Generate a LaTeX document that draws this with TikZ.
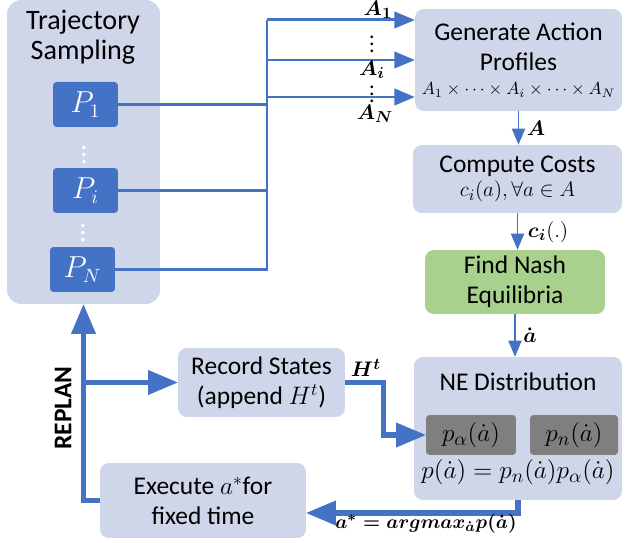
\documentclass[tikz,border=0pt]{standalone}
\usepackage{amsmath}
\usepackage{fontspec}
\setmainfont{Carlito}
\usetikzlibrary{arrows,positioning}

\definecolor{boxgray}{RGB}{208,214,234}
\definecolor{pblue}{RGB}{68,114,196}
\definecolor{nashgreen}{RGB}{169,209,142}
\definecolor{pgray}{RGB}{127,127,127}

\begin{document}
\begin{tikzpicture}[x=0.02cm,y=-0.02cm,
  block/.style={fill=boxgray,rounded corners=5pt,align=center,font=\fontsize{14.5}{17}\selectfont},
  pbox/.style={fill=pblue,rounded corners=2pt,text=white,minimum width=1.3cm,minimum height=0.9cm,font=\fontsize{16}{18}\selectfont},
  dist/.style={fill=pgray,rounded corners=2pt,minimum height=0.8cm,font=\fontsize{15.5}{17}\selectfont},
  bus/.style={pblue,line width=1.7pt},
  feed/.style={bus,-triangle 45},
  flow/.style={pblue,line width=1.1pt,-triangle 45},
  loopline/.style={pblue,line width=3pt,-triangle 45},
  lbl/.style={inner sep=1pt,font=\fontsize{12.5}{14}\selectfont}]

\useasboundingbox (0,0) rectangle (625,543);

% trajectory sampling
\node[block,minimum width=3.06cm,minimum height=6.08cm,rounded corners=8pt] (traj) at (83.5,152) {};
\node[font=\fontsize{16}{17}\selectfont,align=center] (trajtitle) at (83,37) {Trajectory\\Sampling};
\node[pbox] (P1) at (85.5,104.5) {$P_1$};
\node[pbox] (Pi) at (85.5,190.5) {$P_i$};
\node[pbox] (PN) at (82.5,269.5) {$P_N$};
\node[text=white,inner sep=0pt,font=\fontsize{16}{18}\selectfont] (dots1) at (84,150) {$\vdots$};
\node[text=white,inner sep=0pt,font=\fontsize{16}{18}\selectfont] (dots2) at (83,228) {$\vdots$};

% right column
\node[block,minimum width=4.14cm,minimum height=2.04cm] (gen) at (518.5,60) {Generate Action\\Profiles\\[-3pt]{\fontsize{10}{12}\selectfont$A_1\times\cdots\times A_i\times\cdots\times A_N$}};
\node[block,minimum width=4.18cm,minimum height=1.36cm] (cost) at (517.5,179) {Compute Costs\\[-3pt]{\fontsize{13}{15}\selectfont$c_i(a),\forall a\in A$}};
\node[block,fill=nashgreen,minimum width=3.6cm,minimum height=1.28cm] (nash) at (515,282) {Find Nash\\Equilibria};
\node[block,minimum width=4.16cm,minimum height=2.86cm] (ne) at (518,428.5) {};
\node[font=\fontsize{14.5}{17}\selectfont] (netitle) at (518,382) {NE Distribution};
\node[dist,minimum width=1.8cm] (palpha) at (471,435) {$p_\alpha(\dot a)$};
\node[dist,minimum width=1.76cm] (pn) at (574,435) {$p_n(\dot a)$};
\node[font=\fontsize{15.5}{17}\selectfont] (neformula) at (518,472) {$p(\dot a)=p_n(\dot a)p_\alpha(\dot a)$};

% left bottom
\node[block,minimum width=3.34cm,minimum height=1.38cm] (rec) at (261.5,382.5) {Record States\\(append $H^t$)};
\node[block,minimum width=4.12cm,minimum height=1.5cm] (exe) at (203,500.5) {Execute $a^*$for\\fixed time};

% bus to action profiles
\coordinate (bus1) at (267,20);
\coordinate (busi) at (267,60);
\coordinate (busN) at (267,97);
\draw[bus] (P1.east) -- (P1.east -| bus1);
\draw[bus] (Pi.east) -- (Pi.east -| bus1);
\draw[bus] (PN.east) -- (PN.east -| bus1) -- (bus1);
\draw[feed] (bus1) -- (bus1 -| gen.west);
\draw[feed] (busi) -- (busi -| gen.west);
\draw[feed] (busN) -- (busN -| gen.west);

\node[lbl] (lA1) at (378,10) {$\boldsymbol{A_1}$};
\node[lbl] (lvd1) at (372,39) {$\boldsymbol{\vdots}$};
\node[lbl] (lAi) at (372,70) {$\boldsymbol{A_i}$};
\node[lbl] (lvd2) at (372,89) {$\boldsymbol{\vdots}$};
\node[lbl] (lAN) at (375,114) {$\boldsymbol{A_N}$};

% pipeline
\draw[flow] (gen.south) -- (gen.south |- cost.north);
\draw[flow] (cost.south) -- (cost.south |- nash.north);
\draw[flow] (nash.south) -- (nash.south |- ne.north);
\node[lbl] (lA) at (536,128) {$\boldsymbol{A}$};
\node[lbl] (lc) at (548,232) {$\boldsymbol{c_i}(.)$};
\node[lbl] (ldot) at (530,335) {$\boldsymbol{\dot a}$};

% feedback loop
\coordinate (fork) at (traj.south |- rec.west);
\draw[loopline] (exe.west) -- (exe.west -| traj.south) -- (traj.south);
\draw[loopline] (fork) -- (fork -| rec.west);
\draw[loopline] (rec.east) -- ++(38,0) |- (palpha.west);
\draw[loopline] (ne.south) |- ([yshift=-0.25cm]exe.east);
\node[lbl] (lH) at (366,368) {$\boldsymbol{H^t}$};
\node[lbl,font=\fontsize{11}{13}\selectfont] (lstar) at (426,524) {$\boldsymbol{a^* = argmax_{\dot a} p(\dot a)}$};
\node[rotate=90,font=\bfseries\fontsize{14.5}{16}\selectfont] (replan) at (63,408) {REPLAN};

\end{tikzpicture}
\end{document}
